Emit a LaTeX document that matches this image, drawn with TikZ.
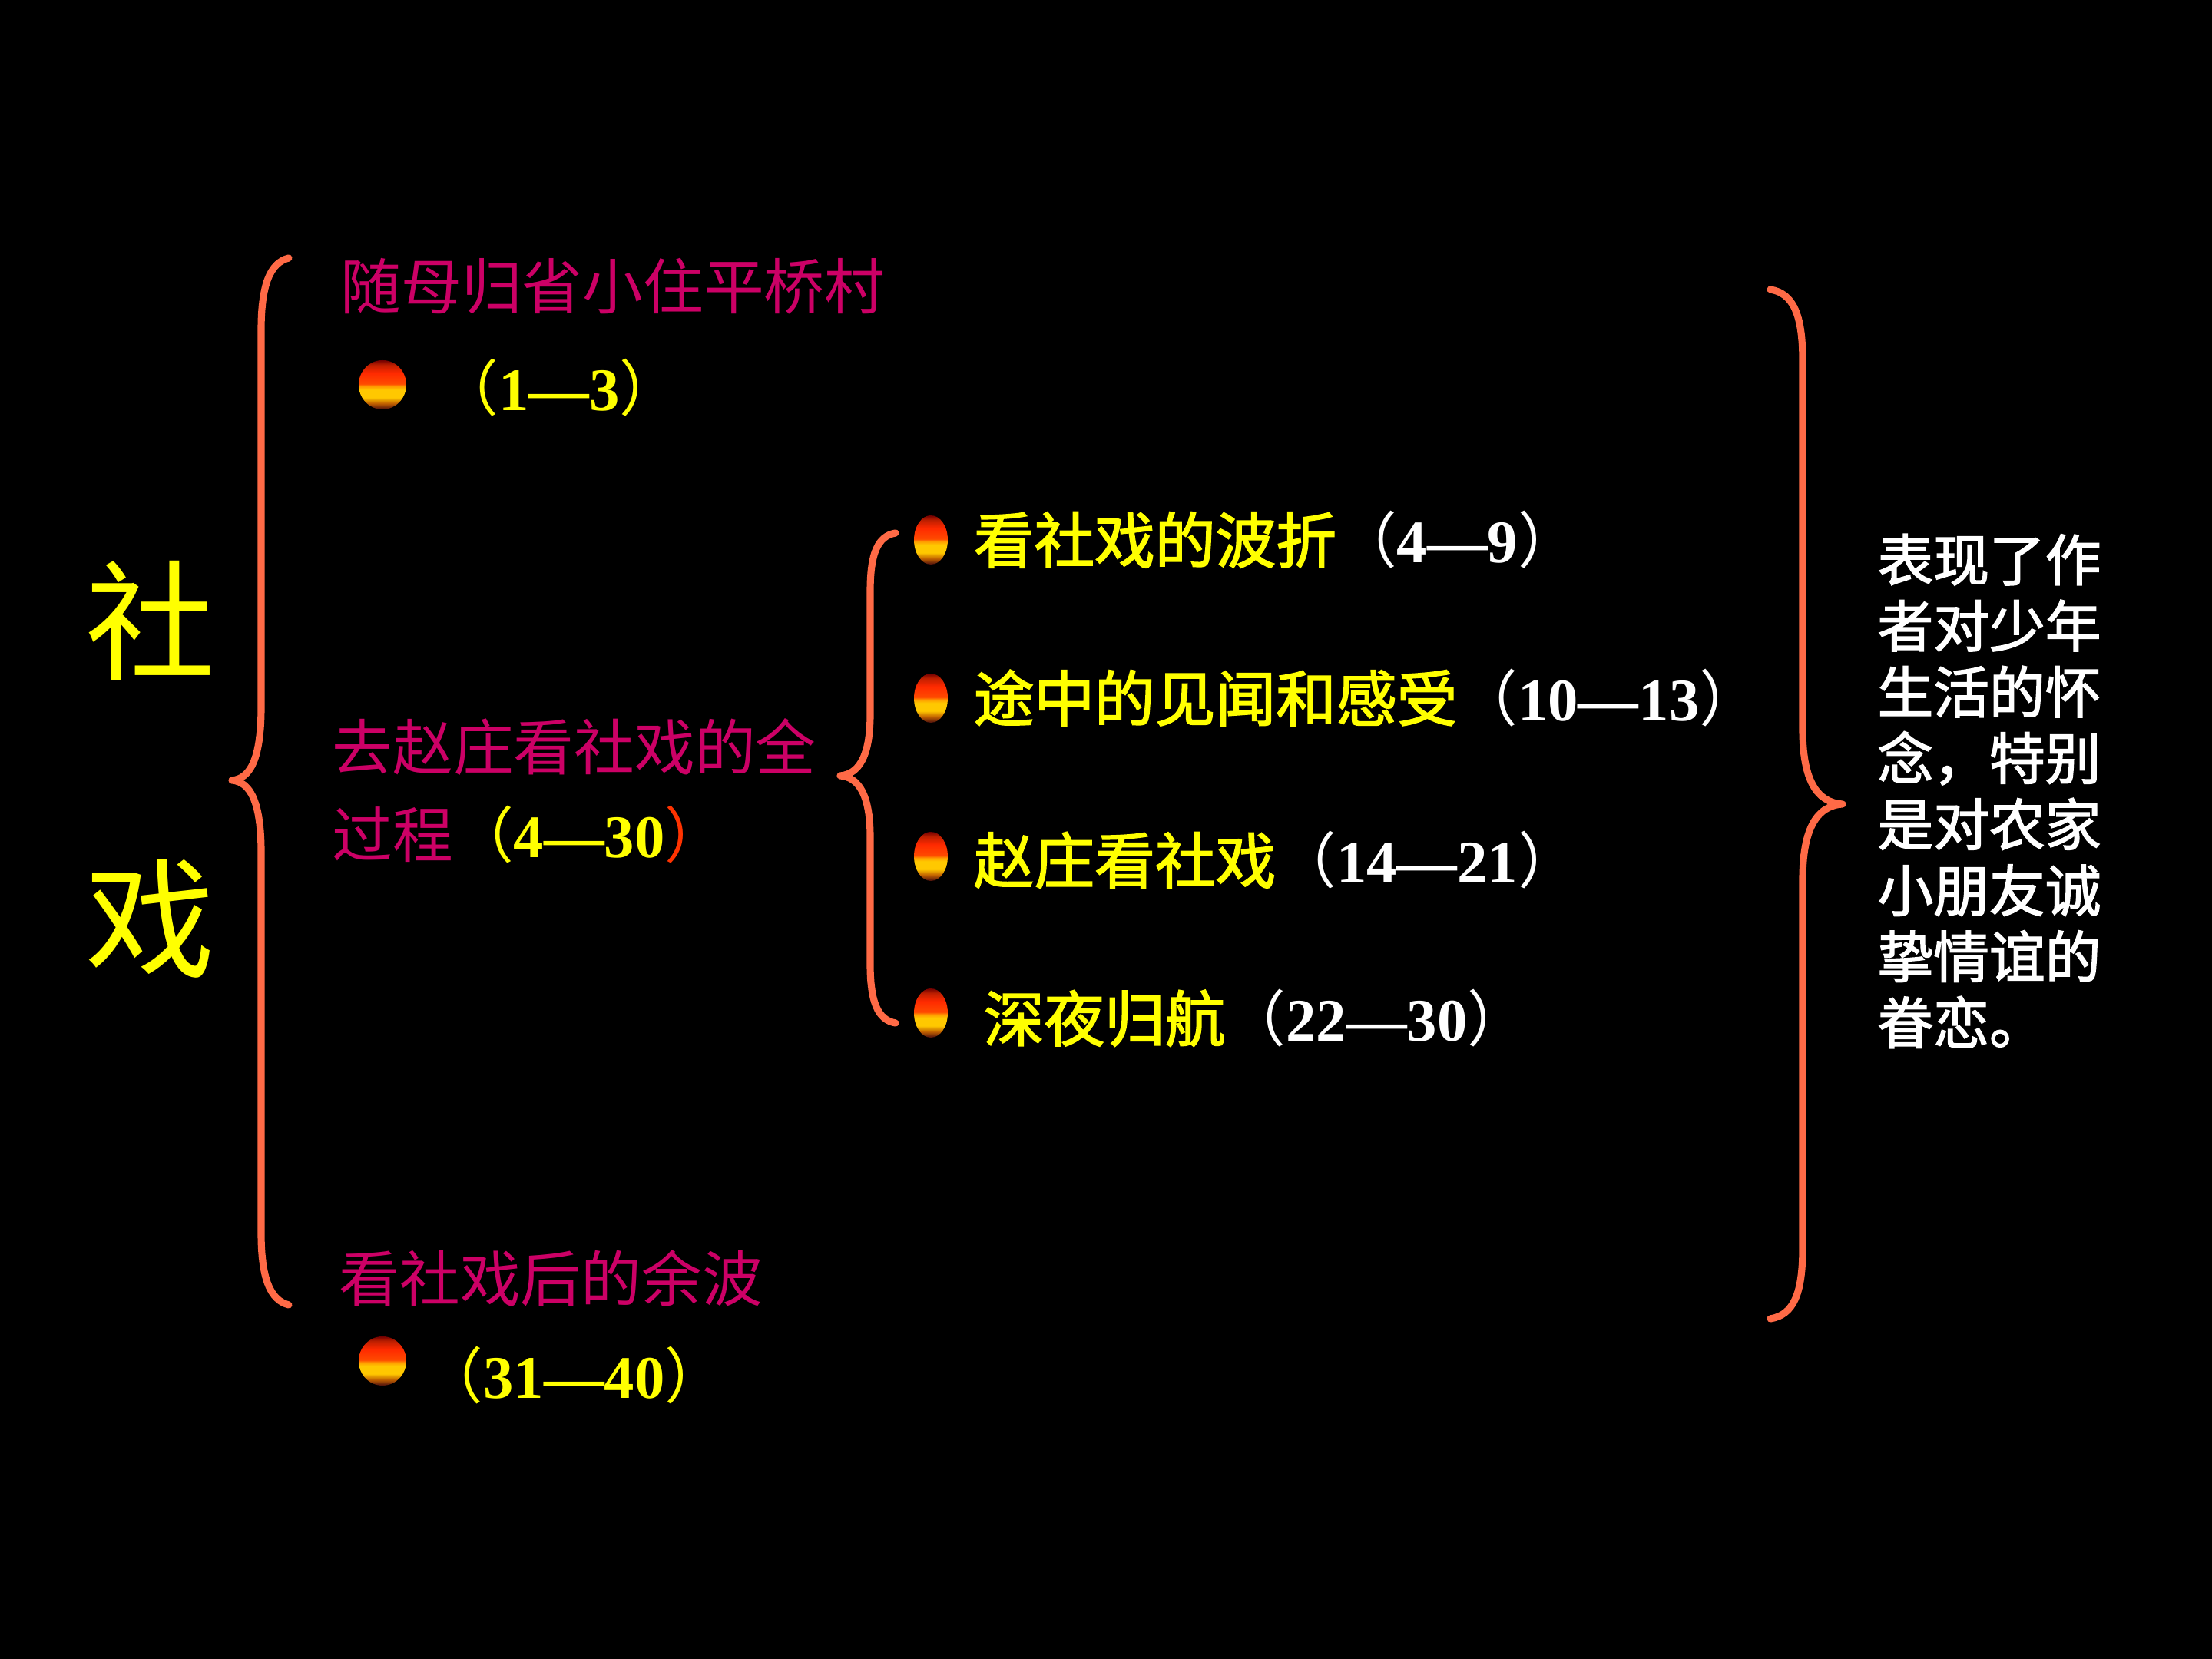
\documentclass[tikz,border=0pt]{standalone}
\usepackage{fontspec}
\setmainfont{Liberation Serif}
\newfontfamily\cjk{Noto Sans CJK SC}
\newfontfamily\cjkheavy{Noto Sans CJK SC}[FakeBold=2]
\usetikzlibrary{shapes.geometric}
\definecolor{bracecol}{HTML}{FF6A46}
\definecolor{rosered}{HTML}{CC0066}
\definecolor{sunyellow}{HTML}{FFFF00}
\definecolor{parenred}{HTML}{FF3300}
\definecolor{balltop}{HTML}{700000}
\definecolor{ballred}{HTML}{FF2A00}
\definecolor{ballorange}{HTML}{FF4A00}
\definecolor{ballamber}{HTML}{FF9A00}
\definecolor{ballyellow}{HTML}{FFC800}
\definecolor{ballrust}{HTML}{C06000}
\definecolor{ballbottom}{HTML}{4A0D0D}
\pgfdeclareverticalshading{sunball}{100bp}{color(0bp)=(ballbottom); color(25bp)=(ballbottom);
  color(31bp)=(ballrust); color(37bp)=(ballyellow); color(45bp)=(ballyellow); color(48.5bp)=(ballamber);
  color(51bp)=(ballorange); color(62bp)=(ballred); color(70bp)=(ballred!75!black); color(75bp)=(balltop);
  color(100bp)=(balltop)}
\newcommand\pars[1]{{\cjk\mdseries （}{\rmfamily\bfseries #1}{\cjk\mdseries ）}}
\begin{document}
\begin{tikzpicture}[
  brace/.style={draw=bracecol,line width=2.6pt,line cap=round,line join=round},
  ball/.style={ellipse,minimum width=0.62cm,minimum height=0.64cm,inner sep=0pt,shading=sunball},
  thinball/.style={ball,minimum width=0.44cm,minimum height=0.64cm},
  part/.style={anchor=west,inner sep=0pt,text=rosered,font=\cjk\fontsize{22.4pt}{26pt}\selectfont},
  stage/.style={anchor=west,inner sep=0pt,text=sunyellow,font=\cjkheavy\fontsize{22.4pt}{26pt}\selectfont},
  numtext/.style={anchor=west,inner sep=0pt,text=sunyellow,font=\fontsize{22.4pt}{26pt}\selectfont},
  headchar/.style={inner sep=0pt,text=sunyellow,font=\cjk\fontsize{48pt}{52pt}\selectfont}
]
\fill[black](0,0) rectangle(28.8,21.6);
\node[headchar] (she) at (1.96,13.52) {社};
\node[headchar] (xi) at (1.96,9.64) {戏};
\draw[brace] (3.76,18.24) .. controls (3.52,18.18) and (3.40,17.9) .. (3.40,17.3) -- (3.40,12.4)
  .. controls (3.40,11.7) and (3.25,11.46) .. (3.02,11.44) .. controls (3.25,11.42) and (3.40,11.18) .. (3.40,10.5)
  -- (3.40,5.55) .. controls (3.40,4.95) and (3.52,4.67) .. (3.76,4.61);
\node[part] (home) at (4.43,17.87) {随母归省小住平桥村};
\node[ball] (b0) at (4.98,16.59) {};
\node[numtext] (r0) at (5.70,16.55) {\pars{1—3}};
\node[part] (trip) at (4.32,11.87) {去赵庄看社戏的全};
\node[part] (trip2) at (4.32,10.73) {过程{\color{sunyellow}\cjk （\rmfamily\bfseries 4—30}{\color{parenred}\cjk ）}};
\node[part] (after) at (4.41,4.96) {看社戏后的余波};
\node[ball] (b5) at (4.98,3.88) {};
\node[numtext] (r5) at (5.50,3.69) {\pars{31—40}};
\draw[brace] (11.66,14.66) .. controls (11.43,14.62) and (11.33,14.4) .. (11.33,13.9) -- (11.33,12.3)
  .. controls (11.33,11.75) and (11.18,11.52) .. (10.94,11.50) .. controls (11.18,11.48) and (11.33,11.25) .. (11.33,10.7)
  -- (11.33,9.05) .. controls (11.33,8.55) and (11.43,8.32) .. (11.66,8.28);
\node[thinball] (b1) at (12.12,14.57) {};
\node[stage] (s1) at (12.67,14.57) {看社戏的波折{\color{white}\pars{4—9}}};
\node[thinball] (b2) at (12.12,12.51) {};
\node[stage] (s2) at (12.67,12.51) {途中的见闻和感受{\color{white}\pars{10—13}}};
\node[thinball] (b3) at (12.12,10.45) {};
\node[stage] (s3) at (12.67,10.40) {赵庄看社戏{\color{white}\pars{14—21}}};
\node[thinball] (b4) at (12.12,8.41) {};
\node[stage] (s4) at (12.80,8.34) {深夜归航{\color{white}\pars{22—30}}};
\draw[brace] (23.05,17.83) .. controls (23.35,17.78) and (23.47,17.5) .. (23.47,16.9) -- (23.47,12.1)
  .. controls (23.47,11.45) and (23.65,11.15) .. (23.99,11.13) .. controls (23.65,11.11) and (23.47,10.8) .. (23.47,10.15)
  -- (23.47,5.35) .. controls (23.47,4.75) and (23.35,4.48) .. (23.05,4.43);
\node[inner sep=0pt,text=white,align=left,font=\cjkheavy\fontsize{20.7pt}{24.5pt}\selectfont] (theme) at (25.9,11.30)
  {表现了作\\者对少年\\生活的怀\\念，特别\\是对农家\\小朋友诚\\挚情谊的\\眷恋。};
\end{tikzpicture}
\end{document}
